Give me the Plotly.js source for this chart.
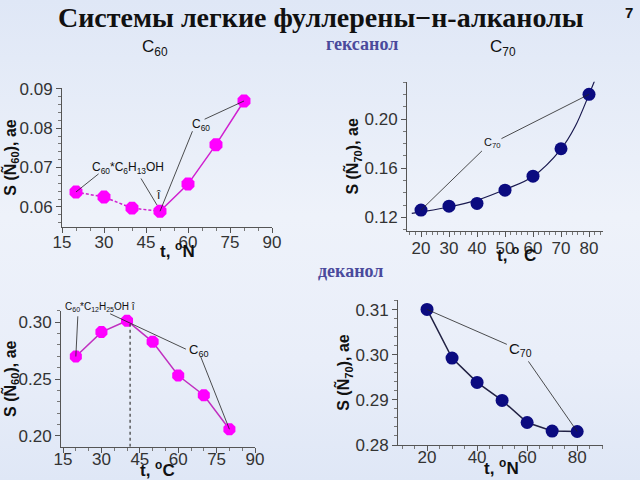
<!DOCTYPE html>
<html>
<head>
<meta charset="utf-8">
<script src="https://cdn.plot.ly/plotly-3.0.1.min.js"></script>
<style>
html,body{margin:0;padding:0;}
body{width:640px;height:480px;background:linear-gradient(to bottom,#dfe7f6 0%,#eef2fa 45%,#e9eef9 75%,#dfe7f6 100%);}
#chart{width:640px;height:480px;}
</style>
</head>
<body>
<div id="chart"></div>
<script>
// ---- data ----
const tHex = [20, 30, 40, 50, 60, 70, 80];
const sC60Hex = [0.0638, 0.0625, 0.0597, 0.0589, 0.0658, 0.0758, 0.0869];
const sC70Hex = [0.1260, 0.1292, 0.1314, 0.1422, 0.1536, 0.1759, 0.2201];
const fitC70HexT = [16.7, 20, 30, 40, 50, 60, 70, 75, 80, 82.1];
const fitC70HexS = [0.1233, 0.1245, 0.1285, 0.1341, 0.1428, 0.1534, 0.1756, 0.1937, 0.2200, 0.2317];
const tDec = [20, 30, 40, 50, 60, 70, 80];
const sC60Dec = [0.2698, 0.2912, 0.3012, 0.2827, 0.2531, 0.2358, 0.2059];
const sC70Dec = [0.3101, 0.2993, 0.2939, 0.2899, 0.2850, 0.2831, 0.2830];
const solvateT60Dec = 41.2;

const magenta = '#ff00ff';
const navy = '#0b0b80';
const SANS = 'Liberation Sans, Arial, sans-serif';
const tickFont = {family: SANS, size: 17, color: '#333'};
const titleFont = {family: SANS, size: 17, color: '#111', weight: 'bold'};
const yTitleFont = {family: SANS, size: 16, color: '#111', weight: 'bold'};

const traces = [
  // top-left: C60 hexanol
  {x: tHex.slice(0, 4), y: sC60Hex.slice(0, 4), xaxis: 'x', yaxis: 'y', mode: 'lines',
   line: {color: '#d020d0', width: 1.5, dash: '3px,2px'}},
  {x: tHex.slice(3), y: sC60Hex.slice(3), xaxis: 'x', yaxis: 'y', mode: 'lines',
   line: {color: '#d020d0', width: 1.5}},
  {x: tHex, y: sC60Hex, xaxis: 'x', yaxis: 'y', mode: 'markers',
   marker: {color: magenta, size: 14, symbol: 'octagon'}},
  // top-right: C70 hexanol
  {x: fitC70HexT, y: fitC70HexS, xaxis: 'x2', yaxis: 'y2', mode: 'lines',
   line: {color: '#1a1a50', width: 1.2, shape: 'spline'}},
  {x: tHex, y: sC70Hex, xaxis: 'x2', yaxis: 'y2', mode: 'markers',
   marker: {color: navy, size: 13}},
  // bottom-left: C60 decanol
  {x: tDec, y: sC60Dec, xaxis: 'x3', yaxis: 'y3', mode: 'lines+markers',
   line: {color: '#c030c0', width: 1.5},
   marker: {color: magenta, size: 13, symbol: 'octagon'}},
  // bottom-right: C70 decanol
  {x: tDec, y: sC70Dec, xaxis: 'x4', yaxis: 'y4', mode: 'lines+markers',
   line: {color: '#222244', width: 1.5},
   marker: {color: navy, size: 13}}
];

function xa(domain, range, dtick, tick0) {
  return {domain: domain, range: range, dtick: dtick, tick0: tick0, showgrid: false, zeroline: false,
    showline: true, linecolor: '#555', linewidth: 1, ticks: 'outside', ticklen: 5, tickcolor: '#555',
    minor: {ticks: 'outside', ticklen: 3, tickcolor: '#777'},
    tickfont: tickFont, fixedrange: true};
}
const layout = {
  width: 640, height: 480,
  margin: {l: 0, r: 0, t: 0, b: 0},
  paper_bgcolor: 'rgba(0,0,0,0)', plot_bgcolor: 'rgba(0,0,0,0)',
  showlegend: false,
  xaxis: Object.assign(xa([62/640, 272/640], [15, 90], 15, 0), {anchor: 'y', ticklabelstandoff: -5}),
  yaxis: Object.assign(xa([1-227/480, 1-88/480], [0.0549, 0.0902], 0.01, 0),
    {anchor: 'x', tickformat: '.2f', title: {text: 'S (Ñ<sub>60</sub>), ae', font: yTitleFont, standoff: 1}}),
  xaxis2: Object.assign(xa([407/640, 603/640], [15, 85], 10, 0), {anchor: 'y2', ticklabelstandoff: -3}),
  yaxis2: Object.assign(xa([1-231/480, 1-81.7/480], [0.109, 0.2304], 0.04, 0),
    {anchor: 'x2', tickformat: '.2f', title: {text: 'S (Ñ<sub>70</sub>), ae', font: yTitleFont, standoff: 1}}),
  xaxis3: Object.assign(xa([61/640, 255/640], [14.2, 90], 15, 0), {anchor: 'y3', ticklabelstandoff: -8}),
  yaxis3: Object.assign(xa([1-446.7/480, 1-310.7/480], [0.1906, 0.310], 0.05, 0),
    {anchor: 'x3', tickformat: '.2f', title: {text: 'S (Ñ<sub>60</sub>), ae', font: yTitleFont, standoff: 1}}),
  xaxis4: Object.assign(xa([398/640, 602.7/640], [8.4, 90.2], 20, 0), {anchor: 'y4', ticklabelstandoff: -8}),
  yaxis4: Object.assign(xa([1-445/480, 1-300/480], [0.28, 0.3122], 0.01, 0),
    {anchor: 'x4', tickformat: '.2f', title: {text: 'S (Ñ<sub>70</sub>), ae', font: yTitleFont, standoff: 1}}),
  shapes: [
    {type: 'line', xref: 'x3', yref: 'y3', x0: solvateT60Dec, x1: solvateT60Dec, y0: 0.1906, y1: sC60Dec[2],
     line: {color: '#444', width: 1.3, dash: 'dot'}}
  ],
  annotations: []
};

function callout(xr, yr, xt, yt, xs, ys) {
  return {xref: xr, yref: yr, axref: xr, ayref: yr, x: xt, y: yt, ax: xs, ay: ys, text: '',
    showarrow: true, arrowhead: 0, arrowwidth: 0.8, arrowcolor: '#222'};
}
function label(xr, yr, x, y, text, size) {
  return {xref: xr, yref: yr, x: x, y: y, text: text, showarrow: false, xanchor: 'center', yanchor: 'middle',
    font: {family: SANS, size: size || 12, color: '#111'}};
}
function pageText(px, py, text, font) {
  return {xref: 'paper', yref: 'paper', x: px/640, y: 1-py/480, text: text, showarrow: false,
    xanchor: 'center', yanchor: 'middle', font: font};
}
const A = layout.annotations;
// top-left
A.push(callout('x', 'y', tHex[0], sC60Hex[0], 28.6, 0.0687));
A.push(callout('x', 'y', 48.9, 0.0605, 42.9, 0.0676));
A.push(callout('x', 'y', tHex[3], sC60Hex[3], 61.8, 0.0796));
A.push(callout('x', 'y', tHex[6], sC60Hex[6], 65.4, 0.0821));
A.push(label('x', 'y', 38.6, 0.0700, 'C<sub>60</sub>*C<sub>6</sub>H<sub>13</sub>OH', 12));
A.push(label('x', 'y', 49.6, 0.0630, 'î', 12));
A.push(label('x', 'y', 64.6, 0.0809, 'C<sub>60</sub>', 12));
// top-right
A.push(callout('x2', 'y2', tHex[6], sC70Hex[6], 48.2, 0.1835));
A.push(callout('x2', 'y2', tHex[0], sC70Hex[0], 42.3, 0.1753));
A.push(label('x2', 'y2', 45.7, 0.1805, 'C<sub>70</sub>', 11));
// bottom-left
A.push(callout('x3', 'y3', tDec[0], sC60Dec[0], 20.8, 0.3064));
A.push(callout('x3', 'y3', 33.4, 0.3073, 63.6, 0.2756));
A.push(callout('x3', 'y3', tDec[6], sC60Dec[6], 68.5, 0.2712));
A.push(pageText(100, 307, 'C<sub>60</sub>*C<sub>12</sub>H<sub>25</sub>OH î', {family: SANS, size: 10, color: '#111'}));
A.push(label('x3', 'y3', 68.3, 0.2748, 'C<sub>60</sub>', 13));
// bottom-right
A.push(callout('x4', 'y4', tDec[0], sC70Dec[0], 52.5, 0.3022));
A.push(callout('x4', 'y4', tDec[6], sC70Dec[6], 60.1, 0.2989));
A.push(label('x4', 'y4', 57.4, 0.3013, 'C<sub>70</sub>', 15));
// x-axis titles (placed as in the slide, overlapping the tick labels)
A.push(pageText(177, 250, '<b>t, <sup>o</sup>N</b>', titleFont));
A.push(pageText(516, 254, '<b>t, <sup>o</sup> C</b>', titleFont));
A.push(pageText(157, 469, '<b>t, <sup>o</sup>C</b>', titleFont));
A.push(pageText(501, 467, '<b>t, <sup>o</sup>N</b>', titleFont));
// page texts
A.push(pageText(321, 18, '<b>Системы легкие фуллерены−н-алканолы</b>',
  {family: 'Liberation Serif, Times New Roman, serif', size: 28, color: '#111'}));
A.push(pageText(629, 12, '<b>7</b>', {family: SANS, size: 15, color: '#111'}));
A.push(pageText(155, 48, 'C<sub>60</sub>', {family: SANS, size: 17, color: '#111'}));
A.push(pageText(503, 48, 'C<sub>70</sub>', {family: SANS, size: 17, color: '#111'}));
A.push(pageText(362, 44, '<b>гексанол</b>', {family: 'Liberation Serif, Times New Roman, serif', size: 18, color: '#4a4a9c'}));
A.push(pageText(350, 271, '<b>деканол</b>', {family: 'Liberation Serif, Times New Roman, serif', size: 18, color: '#4a4a9c'}));

Plotly.newPlot('chart', traces, layout, {displayModeBar: false, staticPlot: true});
</script>
</body>
</html>
